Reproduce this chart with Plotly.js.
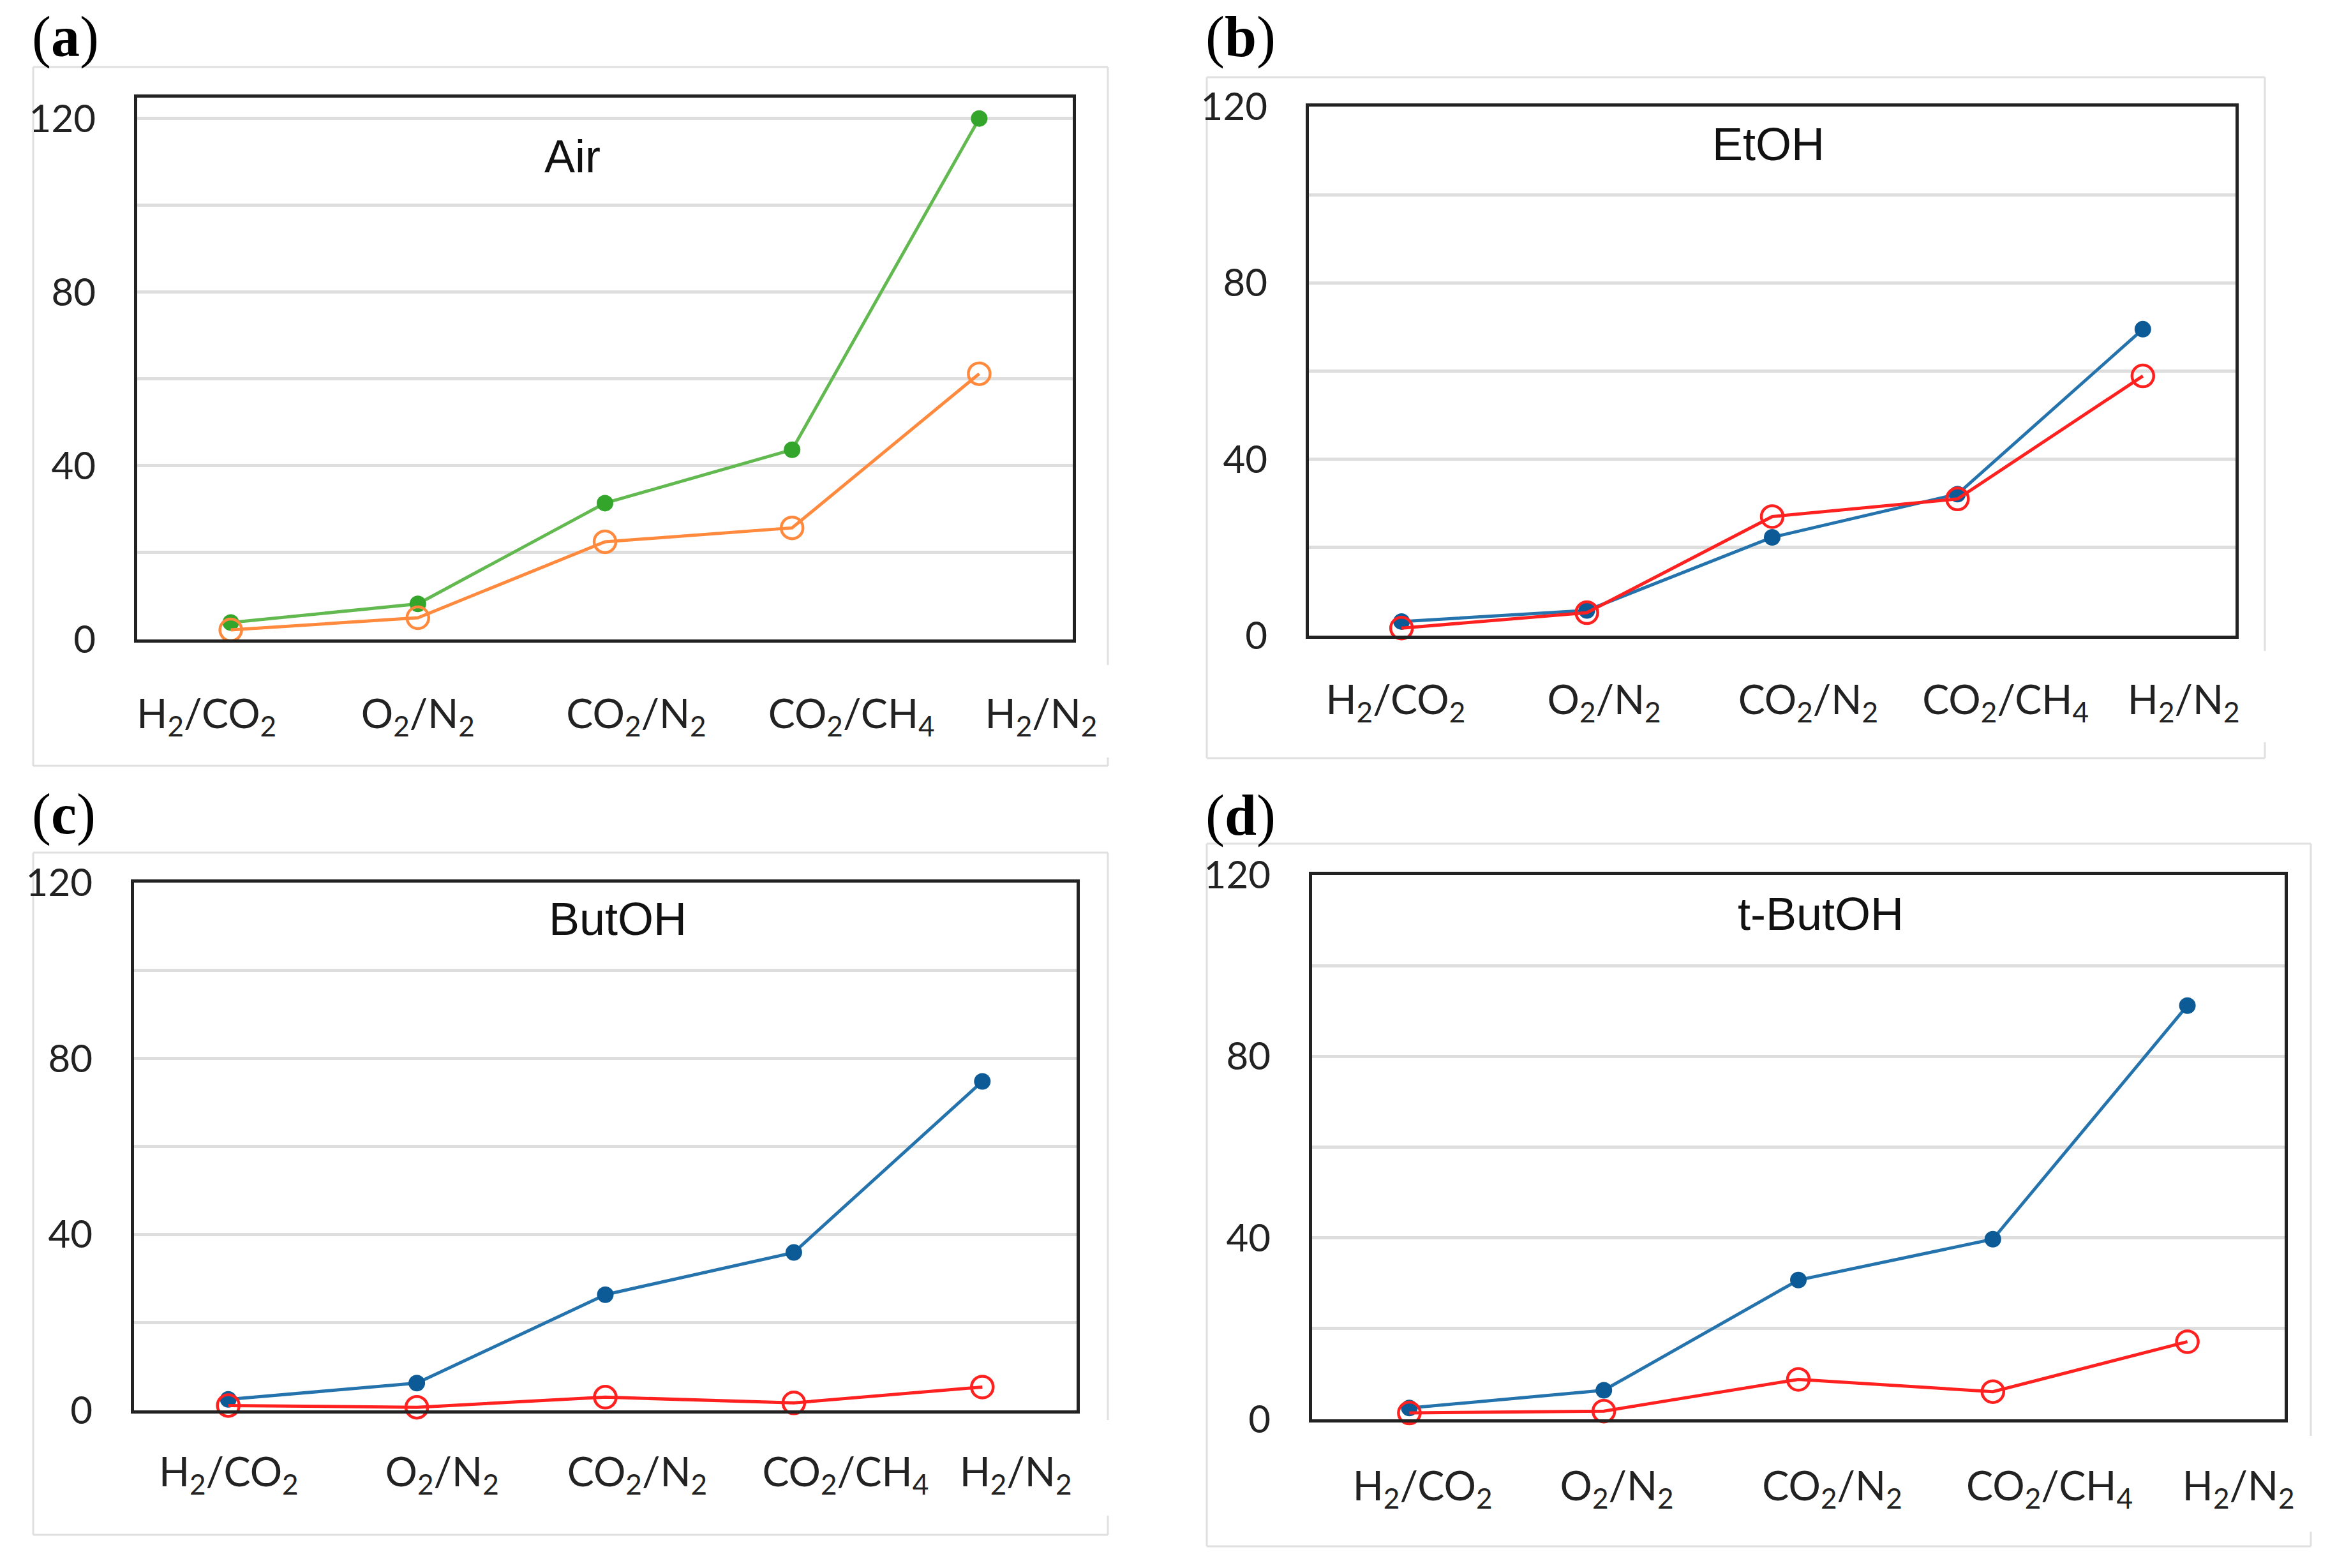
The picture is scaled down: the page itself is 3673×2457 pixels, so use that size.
<!DOCTYPE html>
<html>
<head>
<meta charset="utf-8">
<script src="https://cdn.plot.ly/plotly-3.0.1.min.js"></script>
<style>
  body { margin: 0; background: #fff; }
  #myDiv { width: 3673px; height: 2457px; }
</style>
</head>
<body>
<div id="myDiv"></div>
<script>
// gas pairs on the x axis
var gases = [
  'H<sub>2</sub>/CO<sub>2</sub>',
  'O<sub>2</sub>/N<sub>2</sub>',
  'CO<sub>2</sub>/N<sub>2</sub>',
  'CO<sub>2</sub>/CH<sub>4</sub>',
  'H<sub>2</sub>/N<sub>2</sub>'
];

// (a) Air
var airFilled = [3.9, 8.2, 31.4, 43.7, 120];
var airOpen = [2.2, 5.0, 22.5, 25.7, 61.2];
// (b) EtOH
var etohFilled = [3.2, 5.7, 22.3, 32.1, 69.5];
var etohOpen = [1.7, 5.2, 27.0, 31.0, 58.9];
// (c) ButOH
var butohFilled = [2.5, 6.2, 26.3, 35.9, 74.8];
var butohOpen = [1.1, 0.7, 3.0, 1.7, 5.3];
// (d) t-ButOH
var tbutohFilled = [2.5, 6.4, 30.7, 39.7, 91.2];
var tbutohOpen = [1.4, 1.8, 8.8, 6.1, 17.1];

var yTicks = [0, 40, 80, 120];
var yMinorTicks = [20, 60, 100];

var W = 3673, H = 2457;
function px(x) { return x / W; }
function py(y) { return 1 - y / H; }

var GREEN_LINE = '#62b94f', GREEN_DOT = '#34a52b';
var ORANGE = '#ff8a3d';
var BLUE_LINE = '#2573ad', BLUE_DOT = '#0d5b96';
var RED = '#ff2020';

function filledTrace(y, n, lineColor, dotColor) {
  return {
    x: gases, y: y, xaxis: 'x' + n, yaxis: 'y' + n,
    type: 'scatter', mode: 'lines+markers',
    line: { color: lineColor, width: 5 },
    marker: { size: 26, color: dotColor },
    cliponaxis: false, showlegend: false
  };
}

function openTrace(y, n, color) {
  return {
    x: gases, y: y, xaxis: 'x' + n, yaxis: 'y' + n,
    type: 'scatter', mode: 'lines+markers',
    line: { color: color, width: 5 },
    marker: { symbol: 'circle-open', size: 34, color: color, line: { width: 4.5, color: color } },
    cliponaxis: false, showlegend: false
  };
}

/* panel geometry, in page pixels */
var panels = [
  { n: '', letter: 'a', title: 'Air', plot: [215, 153, 1681, 1002], yTop: 124.8,
    box: [52, 105, 1736, 1200], gap: [1042, 1187], labelY: 58,
    labelPos: [-0.129, 1.000, 2.167, 3.317, 4.331], standoff: 58, titlePos: [0.465, 0.892] },
  { n: '2', letter: 'b', title: 'EtOH', plot: [2051, 167, 3503, 996], yTop: 120,
    box: [1891, 121, 3549, 1188], gap: [1020, 1163], labelY: 58,
    labelPos: [-0.032, 1.093, 2.194, 3.259, 4.220], standoff: 42, titlePos: [0.496, 0.929] },
  { n: '3', letter: 'c', title: 'ButOH', plot: [210, 1383, 1687, 2210], yTop: 120,
    box: [52, 1336, 1736, 2405], gap: [2225, 2375], labelY: 1276,
    labelPos: [0.002, 1.134, 2.169, 3.274, 4.177], standoff: 38, titlePos: [0.513, 0.931] },
  { n: '4', letter: 'd', title: 't-ButOH', plot: [2056, 1371, 3580, 2224], yTop: 120,
    box: [1891, 1322, 3621, 2423], gap: [2250, 2400], labelY: 1278,
    labelPos: [0.068, 1.067, 2.174, 3.291, 4.263], standoff: 46, titlePos: [0.523, 0.929] }
];

var data = [
  filledTrace(airFilled, '', GREEN_LINE, GREEN_DOT),
  openTrace(airOpen, '', ORANGE),
  filledTrace(etohFilled, '2', BLUE_LINE, BLUE_DOT),
  openTrace(etohOpen, '2', RED),
  filledTrace(butohFilled, '3', BLUE_LINE, BLUE_DOT),
  openTrace(butohOpen, '3', RED),
  filledTrace(tbutohFilled, '4', BLUE_LINE, BLUE_DOT),
  openTrace(tbutohOpen, '4', RED)
];

var layout = {
  width: W, height: H,
  margin: { l: 0, r: 0, t: 0, b: 0 },
  paper_bgcolor: '#fff', plot_bgcolor: '#fff',
  showlegend: false,
  annotations: [],
  shapes: []
};

var boxLine = { color: '#e0e0e0', width: 3 };

for (var i = 0; i < panels.length; i++) {
  var p = panels[i];

  layout['xaxis' + p.n] = {
    domain: [px(p.plot[0]), px(p.plot[2])],
    anchor: 'y' + p.n,
    type: 'category',
    range: [-0.5, 4.5],
    tickmode: 'array', tickvals: p.labelPos, ticktext: gases,
    ticks: '', ticklabelstandoff: p.standoff,
    tickfont: { family: 'Lato, Liberation Sans, sans-serif', size: 63, color: '#222' },
    showgrid: false, zeroline: false,
    showline: true, mirror: true, linecolor: '#222', linewidth: 5,
    fixedrange: true
  };

  layout['yaxis' + p.n] = {
    domain: [py(p.plot[3]), py(p.plot[1])],
    anchor: 'x' + p.n,
    range: [0, p.yTop],
    tickmode: 'array', tickvals: yTicks,
    ticks: '', ticklabelstandoff: 48,
    tickfont: { family: 'Lato, Liberation Sans, sans-serif', size: 60, color: '#222' },
    showgrid: true, gridcolor: '#dedede', gridwidth: 5, zeroline: false,
    minor: { tickmode: 'array', tickvals: yMinorTicks, ticks: '', showgrid: true, gridcolor: '#dedede', gridwidth: 5 },
    showline: true, mirror: true, linecolor: '#222', linewidth: 5,
    fixedrange: true
  };

  layout.annotations.push({
    text: p.title, showarrow: false,
    xref: 'x' + p.n + ' domain', yref: 'y' + p.n + ' domain',
    x: p.titlePos[0], y: p.titlePos[1], xanchor: 'center', yanchor: 'middle',
    font: { family: 'Liberation Sans, Arial, sans-serif', size: 72, color: '#111' }
  });

  layout.annotations.push({
    text: '(<b>' + p.letter + '</b>)', showarrow: false,
    xref: 'paper', yref: 'paper',
    x: px(p.box[0] - 4), y: py(p.labelY), xanchor: 'left', yanchor: 'middle',
    font: { family: 'Liberation Serif, Times New Roman, serif', size: 90, color: '#000' }
  });

  // light frame around each panel, right side is broken next to the last label
  var x0 = px(p.box[0]), x1 = px(p.box[2]);
  var yT = py(p.box[1]), yB = py(p.box[3]);
  layout.shapes.push(
    { type: 'line', xref: 'paper', yref: 'paper', layer: 'below', x0: x0, x1: x1, y0: yT, y1: yT, line: boxLine },
    { type: 'line', xref: 'paper', yref: 'paper', layer: 'below', x0: x0, x1: x1, y0: yB, y1: yB, line: boxLine },
    { type: 'line', xref: 'paper', yref: 'paper', layer: 'below', x0: x0, x1: x0, y0: yB, y1: yT, line: boxLine },
    { type: 'line', xref: 'paper', yref: 'paper', layer: 'below', x0: x1, x1: x1, y0: py(p.gap[0]), y1: yT, line: boxLine },
    { type: 'line', xref: 'paper', yref: 'paper', layer: 'below', x0: x1, x1: x1, y0: yB, y1: py(p.gap[1]), line: boxLine }
  );
}

Plotly.newPlot('myDiv', data, layout, { staticPlot: true });
</script>
</body>
</html>
